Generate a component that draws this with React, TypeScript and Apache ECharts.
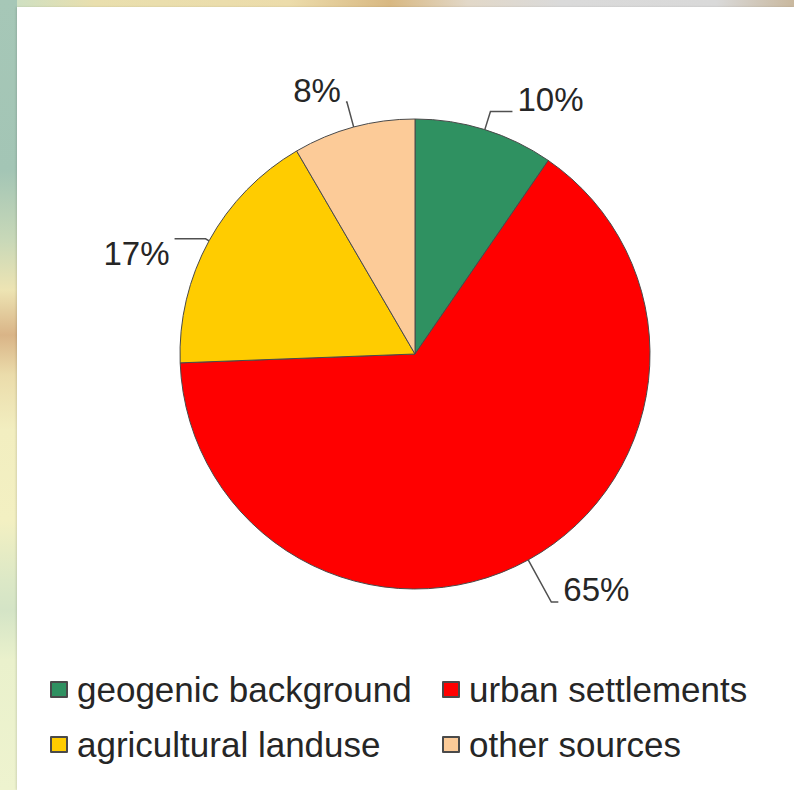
import React, { useEffect, useRef } from "react";
import * as echarts from "echarts";

// ---- data ----
const categories = [
  "geogenic background",
  "urban settlements",
  "agricultural landuse",
  "other sources",
];
const shares = [9.6, 64.8, 17.2, 8.4];

// ---- styling (kept apart from the data) ----
const sliceColors = ["#2F9161", "#FF0000", "#FFCC00", "#FCCB98"];
const leaderLength = [19, 48, 4, 26];
const leaderLength2 = [22, 7, 31, 1];
// true: text sits above the leader end, false: text sits below it
const labelAbove = [true, true, false, true];
const legendLeftCol = [categories[0], categories[2]];
const legendRightCol = [categories[1], categories[3]];

const FONT = '"Liberation Sans", Arial, Helvetica, sans-serif';

export default function App() {
  const ref = useRef<HTMLDivElement>(null);

  useEffect(() => {
    if (!ref.current) return;
    const chart = echarts.init(ref.current, undefined, { renderer: "svg" });

    const data = categories.map((name, i) => ({
      name,
      value: shares[i],
      itemStyle: { color: sliceColors[i] },
      label: {
        formatter: labelAbove[i] ? "{t|{d}%}\n{gap| }" : "{gap2| }\n{t|{d}%}",
      },
      labelLine: { length: leaderLength[i], length2: leaderLength2[i] },
    }));

    const legendCommon = {
      orient: "vertical" as const,
      top: 667,
      itemWidth: 16,
      itemHeight: 15,
      itemGap: 20,
      icon: "rect",
      selectedMode: false,
      textStyle: {
        fontFamily: FONT,
        fontSize: 35,
        lineHeight: 35,
        color: "#262626",
        padding: [0, 0, 0, 5],
      },
    };

    chart.setOption({
      animation: false,
      backgroundColor: "transparent",
      legend: [
        { ...legendCommon, left: 45, data: legendLeftCol },
        { ...legendCommon, left: 437, data: legendRightCol },
      ],
      series: [
        {
          type: "pie",
          center: [415, 354],
          radius: 235,
          startAngle: 90,
          clockwise: true,
          percentPrecision: 0,
          avoidLabelOverlap: true,
          itemStyle: { borderColor: "#4a4a4a", borderWidth: 1 },
          emphasis: { disabled: true },
          label: {
            show: true,
            position: "outside",
            fontFamily: FONT,
            fontSize: 33,
            color: "#262626",
            distanceToLabelLine: 5,
            rich: {
              t: {
                fontFamily: FONT,
                fontSize: 33,
                lineHeight: 33,
                color: "#262626",
              },
              gap: { fontSize: 10, lineHeight: 24 },
              gap2: { fontSize: 10, lineHeight: 30 },
            },
          },
          labelLine: {
            show: true,
            lineStyle: { color: "#505050", width: 1.5 },
          },
          data,
        },
      ],
    });

    return () => chart.dispose();
  }, []);

  return (
    <div
      style={{
        position: "absolute",
        left: 0,
        top: 0,
        width: 794,
        height: 790,
        overflow: "hidden",
        background:
          "linear-gradient(to bottom, #a6c7b7 0px, #a3c5b5 170px, #c8d8b8 240px, #ede4b3 290px, #d9b487 335px, #ebdcab 375px, #f2eec0 430px, #f3f0c2 520px, #dce8c6 580px, #d4e4c6 610px, #eaf1cc 660px, #eef3cf 790px)",
      }}
    >
      <div
        style={{
          position: "absolute",
          left: 17,
          top: 0,
          width: 777,
          height: 7,
          background:
            "linear-gradient(to right, #cfe0c2 0%, #e9dfae 10%, #ecdcab 35%, #d8b882 48%, #e2d8c8 58%, #dadada 70%, #d9d9d9 90%, #c9b89e 100%)",
        }}
      />
      <div
        style={{
          position: "absolute",
          left: 17,
          top: 7,
          width: 777,
          height: 783,
          background: "#ffffff",
          boxShadow: "-1px 0 2px rgba(0,0,0,0.12)",
        }}
      />
      <div
        ref={ref}
        style={{ position: "absolute", left: 0, top: 0, width: 794, height: 790 }}
      />
    </div>
  );
}
